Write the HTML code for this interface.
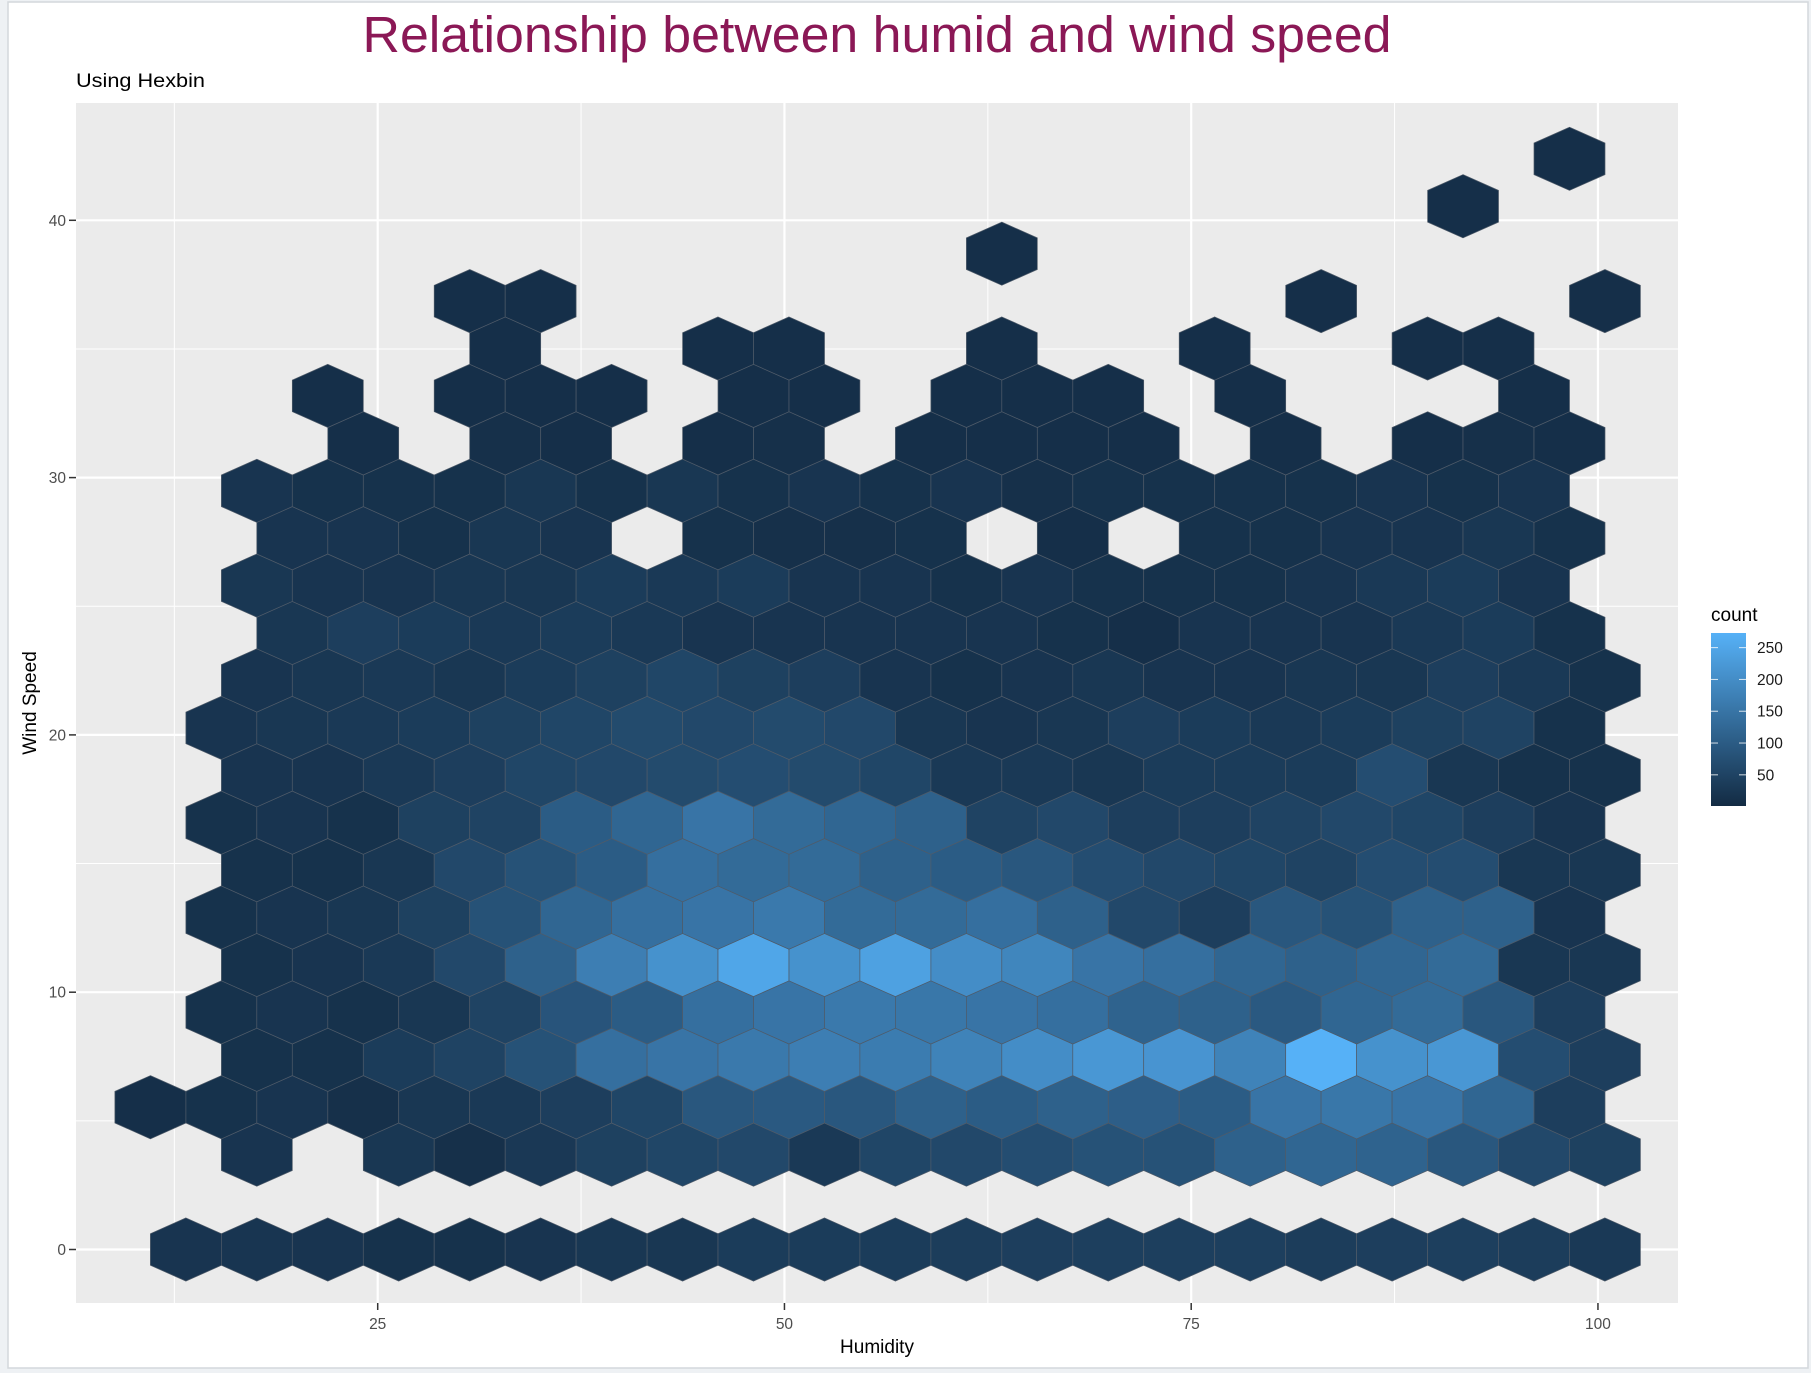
<!DOCTYPE html>
<html><head><meta charset="utf-8"><title>Hexbin chart</title>
<style>
html,body{margin:0;padding:0;background:#eef1f4;}
svg{display:block;font-family:"Liberation Sans",Arial,sans-serif;}
</style></head>
<body>
<svg id="chart" width="1811" height="1373" viewBox="0 0 1811 1373">
  <rect x="8" y="2" width="1800" height="1366" fill="#ffffff" stroke="#d3d7dc" stroke-width="1.5"/>
  <text x="877" y="52" text-anchor="middle" font-size="51" fill="#8b1856" textLength="1029" lengthAdjust="spacingAndGlyphs">Relationship between humid and wind speed</text>
  <text x="76" y="87" font-size="19" fill="#000" textLength="129" lengthAdjust="spacingAndGlyphs">Using Hexbin</text>
  <rect x="76" y="103" width="1602" height="1200" fill="#ebebeb"/>
  <g id="grid"></g>
  <g id="hexes"></g>
  <g id="axes"></g>
  <text x="877" y="1353" text-anchor="middle" font-size="19" fill="#000">Humidity</text>
  <text x="0" y="0" text-anchor="middle" font-size="19" fill="#000" transform="translate(36,703) rotate(-90)">Wind Speed</text>
  <g id="legend">
    <text x="1711" y="621" font-size="19" fill="#000">count</text>
    <defs><linearGradient id="lg" x1="0" y1="1" x2="0" y2="0"><stop offset="0" stop-color="#132B43"/><stop offset="1" stop-color="#56B1F7"/></linearGradient></defs>
    <rect x="1711" y="633" width="35" height="173" fill="url(#lg)"/>
  </g>
</svg>
<script>
const xTicks = [25, 50, 75, 100];
const xMinor = [12.5, 37.5, 62.5, 87.5];
const yTicks = [0, 10, 20, 30, 40];
const yMinor = [5, 15, 25, 35];
const legendTicks = [50, 100, 150, 200, 250];
const countMin = 1;
const countMax = 273;
const binWidth = 4.361;   // humidity per hex column
const binHeight = 1.843;  // wind speed per hex row
const evenStart = 13.21;  // humidity of first even-row column
const oddStart = 11.03;   // humidity of first odd-row column
// counts[k][j]: row k (wind = k*binHeight), column j; 0 = empty bin
const counts = [
 [20,22,20,15,15,20,25,25,35,35,35,38,40,42,42,42,38,40,42,38,30],
 [0,0,0,0,0,0,0,0,0,0,0,0,0,0,0,0,0,0,0,0,0],
 [0,20,0,25,12,28,45,55,60,30,55,60,70,80,80,110,120,115,90,60,45],
 [10,15,20,12,25,30,40,55,90,95,90,110,100,110,105,100,150,155,150,120,40],
 [0,15,15,35,50,80,140,150,160,170,165,180,200,220,215,180,273,210,220,70,40],
 [0,15,20,15,25,50,85,100,140,150,160,155,150,140,115,110,95,120,130,90,40],
 [0,15,20,30,60,110,170,210,250,210,240,200,185,150,140,120,110,120,130,25,25],
 [0,15,20,25,45,80,120,140,150,160,130,130,140,110,60,40,90,80,110,110,20],
 [0,15,15,25,60,80,100,140,130,130,110,100,90,70,60,55,50,70,70,25,25],
 [0,15,20,15,45,50,100,120,150,130,120,110,50,60,40,40,50,60,55,40,20],
 [0,20,20,30,40,55,60,65,70,65,55,30,30,25,35,35,35,70,25,15,15],
 [0,20,25,30,35,45,55,65,60,65,60,25,20,25,40,35,30,35,45,50,15],
 [0,20,25,30,25,35,45,55,45,40,20,15,20,25,20,20,25,25,40,30,15],
 [0,0,25,40,35,30,35,30,20,20,20,20,20,15,10,20,20,20,30,35,15],
 [0,25,20,20,25,25,35,30,35,20,20,15,20,15,15,15,20,30,35,20,0],
 [0,0,20,20,15,25,20,0,15,12,12,15,0,10,0,15,15,20,20,25,15],
 [0,20,15,15,15,25,15,25,15,20,15,20,12,15,15,15,15,20,15,20,0],
 [0,0,0,10,0,12,10,0,10,12,0,10,10,10,10,0,10,0,10,12,10],
 [0,0,10,0,10,10,10,0,10,10,0,10,10,10,0,10,0,0,0,10,0],
 [0,0,0,0,0,10,0,0,10,10,0,0,10,0,0,10,0,0,10,10,0],
 [0,0,0,0,10,10,0,0,0,0,0,0,0,0,0,0,10,0,0,0,10],
 [0,0,0,0,0,0,0,0,0,0,0,0,10,0,0,0,0,0,0,0,0],
 [0,0,0,0,0,0,0,0,0,0,0,0,0,0,0,0,0,0,10,0,0],
 [0,0,0,0,0,0,0,0,0,0,0,0,0,0,0,0,0,0,0,0,10]
];

const NS = "http://www.w3.org/2000/svg";
const X = v => 377.7 + 16.27 * (v - 25);
const Y = v => 1249.5 - 25.73 * v;
const P = {x0:76, x1:1678, y0:103, y1:1303};
const LY = v => 806 - (v - countMin) / (countMax - countMin) * 173;

function mk(tag, attrs, parent){
  const e = document.createElementNS(NS, tag);
  for (const k in attrs) e.setAttribute(k, attrs[k]);
  parent.appendChild(e);
  return e;
}
function color(v){
  const t = Math.max(0, Math.min(1, (v - countMin) / (countMax - countMin)));
  const a = [19,43,67], b = [86,177,247];
  return "rgb(" + a.map((c,i) => Math.round(c + (b[i]-c)*t)).join(",") + ")";
}

const grid = document.getElementById("grid");
xMinor.forEach(v => {
  const l = mk("line", {x1:X(v), x2:X(v), y1:P.y0, y2:P.y1, stroke:"#fff", "stroke-width":1}, grid);
  
  
});
yMinor.forEach(v => {
  const l = mk("line", {x1:P.x0, x2:P.x1, y1:Y(v), y2:Y(v), stroke:"#fff", "stroke-width":1}, grid);
  
  
});
xTicks.forEach(v => {
  const l = mk("line", {x1:X(v), x2:X(v), y1:P.y0, y2:P.y1, stroke:"#fff", "stroke-width":2.2}, grid);
  
  
});
yTicks.forEach(v => {
  const l = mk("line", {x1:P.x0, x2:P.x1, y1:Y(v), y2:Y(v), stroke:"#fff", "stroke-width":2.2}, grid);
  
  
});

const hexG = document.getElementById("hexes");
const R = binHeight * 2 / 3;
counts.forEach((row, k) => {
  row.forEach((c, j) => {
    if (!c) return;
    const cx = (k % 2 === 0 ? evenStart : oddStart) + j * binWidth;
    const cy = k * binHeight;
    const hw = binWidth / 2;
    const pts = [[cx, cy+R],[cx+hw, cy+R/2],[cx+hw, cy-R/2],[cx, cy-R],[cx-hw, cy-R/2],[cx-hw, cy+R/2]]
      .map(p => X(p[0]).toFixed(1) + "," + Y(p[1]).toFixed(1)).join(" ");
    const h = mk("polygon", {points:pts, fill:color(c), stroke:"#4f5b69", "stroke-width":0.7}, hexG);
    
    
  });
});

const axes = document.getElementById("axes");
xTicks.forEach(v => {
  const t = mk("line", {x1:X(v), x2:X(v), y1:P.y1, y2:P.y1+7, stroke:"#333", "stroke-width":1.5}, axes);
  
  
  const l = mk("text", {x:X(v), y:1329, "text-anchor":"middle", "font-size":15.5, fill:"#4d4d4d"}, axes);
  l.textContent = v;
  
  
});
yTicks.forEach(v => {
  const t = mk("line", {x1:P.x0-7, x2:P.x0, y1:Y(v), y2:Y(v), stroke:"#333", "stroke-width":1.5}, axes);
  
  
  const l = mk("text", {x:P.x0-10, y:Y(v)+5.5, "text-anchor":"end", "font-size":15.5, fill:"#4d4d4d"}, axes);
  l.textContent = v;
  
  
});

const leg = document.getElementById("legend");
legendTicks.forEach(v => {
  const y = LY(v);
  const a = mk("line", {x1:1711, x2:1718, y1:y, y2:y, stroke:"#fff", "stroke-width":1, opacity:0.8}, leg);
  
  
  const b = mk("line", {x1:1739, x2:1746, y1:y, y2:y, stroke:"#fff", "stroke-width":1, opacity:0.8}, leg);
  
  
  const l = mk("text", {x:1757, y:y+5.5, "font-size":15.5, fill:"#1a1a1a"}, leg);
  l.textContent = v;
  
  
});
</script>
</body></html>
